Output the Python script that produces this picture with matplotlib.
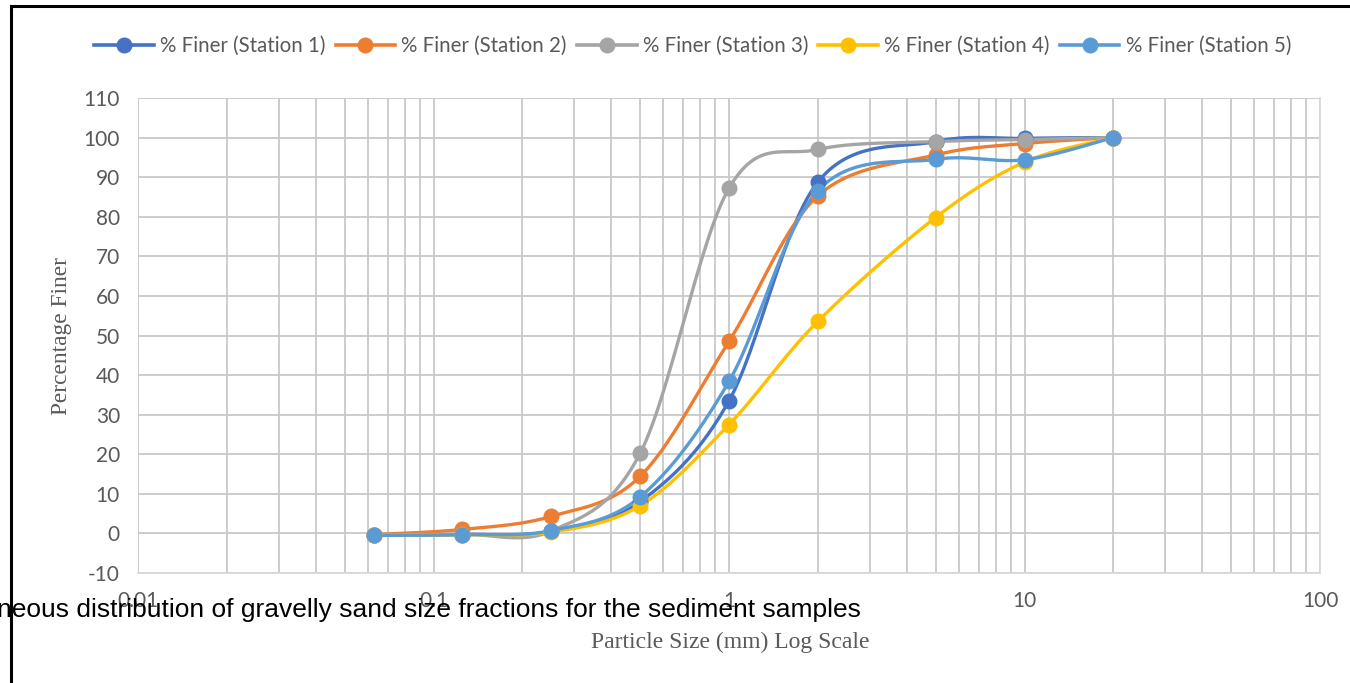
import matplotlib
matplotlib.use("Agg")
import matplotlib.pyplot as plt
from matplotlib.lines import Line2D
from matplotlib.ticker import LogLocator, NullFormatter, FixedLocator
import numpy as np

plt.rcParams["axes.unicode_minus"] = False

# sieve sizes (mm) and % finer for each station
sizes = [0.063, 0.125, 0.25, 0.5, 1, 2, 5, 10, 20]
station1 = [-0.5, -0.3, 0.5, 8.0, 33.5, 88.8, 99.0, 99.8, 100]
station2 = [-0.3, 1.0, 4.3, 14.4, 48.5, 85.3, 95.6, 98.5, 100]
station3 = [-0.3, -0.2, 0.6, 20.2, 87.2, 97.0, 99.0, 99.5, 100]
station4 = [-0.5, -0.3, 0.3, 7.0, 27.5, 53.6, 79.8, 93.8, 100]
station5 = [-0.5, -0.3, 0.7, 9.2, 38.4, 86.6, 94.5, 94.4, 100]

labels = ["% Finer (Station 1)", "% Finer (Station 2)", "% Finer (Station 3)",
          "% Finer (Station 4)", "% Finer (Station 5)"]
colors = ["#4472C4", "#ED7D31", "#A5A5A5", "#FFC000", "#5B9BD5"]
series = [station1, station2, station3, station4, station5]

tick_font = ["Lato", "DejaVu Sans"]
tick_color = "#595959"


def smooth(ax, xs, ys, n=30):
    # Excel style smoothed line: cubic bezier, control points from neighbours (tension 1/6)
    pts = ax.transData.transform(np.column_stack([xs, ys]))
    out = []
    m = len(pts)
    for i in range(m - 1):
        p0 = pts[i - 1] if i > 0 else pts[i]
        p1 = pts[i]
        p2 = pts[i + 1]
        p3 = pts[i + 2] if i + 2 < m else pts[i + 1]
        c1 = p1 + (p2 - p0) / 6.0
        c2 = p2 - (p3 - p1) / 6.0
        t = np.linspace(0, 1, n)[:, None]
        seg = ((1 - t) ** 3) * p1 + 3 * ((1 - t) ** 2) * t * c1 + 3 * (1 - t) * t ** 2 * c2 + t ** 3 * p2
        out.append(seg if i == 0 else seg[1:])
    out = np.vstack(out)
    data = ax.transData.inverted().transform(out)
    return data[:, 0], data[:, 1]


fig = plt.figure(figsize=(13.5, 6.83), dpi=100)
ax = fig.add_axes([138 / 1350, 1 - 573 / 683, (1320 - 138) / 1350, (573 - 98) / 683])

ax.set_xscale("log")
ax.set_xlim(0.01, 100)
ax.set_ylim(-10, 110)
ax.yaxis.set_major_locator(FixedLocator(np.arange(-10, 111, 10)))
ax.xaxis.set_major_locator(FixedLocator([0.01, 0.1, 1, 10, 100]))
ax.xaxis.set_minor_locator(LogLocator(base=10, subs=np.arange(2, 10)))
ax.xaxis.set_minor_formatter(NullFormatter())
ax.set_xticklabels(["0.01", "0.1", "1", "10", "100"])

ax.grid(True, which="both", axis="x", color="#C8C8C8", lw=1.3)
ax.grid(True, which="major", axis="y", color="#C8C8C8", lw=1.3)
ax.set_axisbelow(True)
for side in ["top", "left"]:
    ax.spines[side].set_visible(False)
for side in ["right", "bottom"]:
    ax.spines[side].set_color("#D9D9D9")
    ax.spines[side].set_linewidth(1.3)
ax.tick_params(which="both", length=0)
ax.tick_params(axis="x", pad=13)
ax.tick_params(axis="y", pad=13)
for lab in ax.get_xticklabels() + ax.get_yticklabels():
    lab.set_fontfamily(tick_font)
    lab.set_fontsize(15)
    lab.set_color(tick_color)

fig.canvas.draw()
for vals, col in zip(series, colors):
    sx, sy = smooth(ax, sizes, vals)
    ax.plot(sx, sy, color=col, lw=2.4, solid_capstyle="round", zorder=3)
    ax.plot(sizes, vals, "o", color=col, ms=10.5, zorder=4)

handles = [Line2D([0], [0], color=c, lw=2.6, marker="o", ms=10.5) for c in colors]
fig.legend(handles, labels, loc="center", bbox_to_anchor=(0.513, 1 - 46 / 683), ncol=5,
           frameon=False, handlelength=2.9, columnspacing=0.5, handletextpad=0.3,
           prop={"family": tick_font, "size": 14.8}, labelcolor=tick_color)

fig.text(62 / 1350, 1 - 336 / 683, "Percentage Finer", rotation=90, ha="center", va="center",
         fontfamily="Liberation Serif", fontsize=16.8, color="#595959")
fig.text(730 / 1350, 1 - 642 / 683, "Particle Size (mm) Log Scale", ha="center", va="center",
         fontfamily="Liberation Serif", fontsize=17, color="#595959")

# caption text overlapping tick labels (cut off at left)
fig.text(-3 / 1350, 1 - 610 / 683, "neous distribution of gravelly sand size fractions for the sediment samples",
         ha="left", va="center", fontfamily="Liberation Sans", fontsize=19, color="black")

# outer black frame, only left and top visible
fig.add_artist(Line2D([11 / 1350, 11 / 1350], [0, 1 - 6 / 683], transform=fig.transFigure, color="black", lw=2.2))
fig.add_artist(Line2D([11 / 1350, 1], [1 - 6 / 683, 1 - 6 / 683], transform=fig.transFigure, color="black", lw=2.2))

fig.savefig("out.png", dpi=100)
